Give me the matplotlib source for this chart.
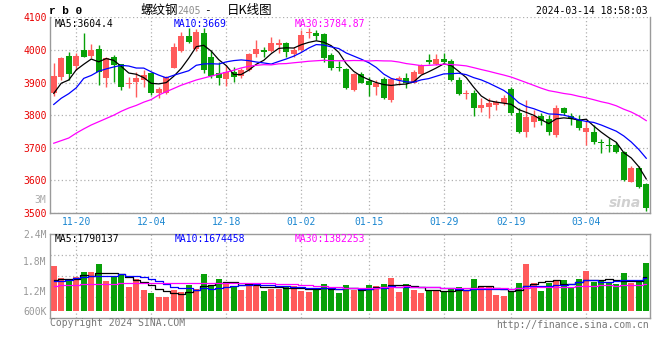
import numpy as np
import pandas as pd
import matplotlib
matplotlib.use('Agg')
import matplotlib.pyplot as plt

# rb0 daily candles, 2023-11-15 .. 2024-03-14
dates = ['11-15', '11-16', '11-17', '11-20', '11-21', '11-22', '11-23', '11-24', '11-27', '11-28',
         '11-29', '11-30', '12-01', '12-04', '12-05', '12-06', '12-07', '12-08', '12-11', '12-12',
         '12-13', '12-14', '12-15', '12-18', '12-19', '12-20', '12-21', '12-22', '12-25', '12-26',
         '12-27', '12-28', '12-29', '01-02', '01-03', '01-04', '01-05', '01-08', '01-09', '01-10',
         '01-11', '01-12', '01-15', '01-16', '01-17', '01-18', '01-19', '01-22', '01-23', '01-24',
         '01-25', '01-26', '01-29', '01-30', '01-31', '02-01', '02-02', '02-05', '02-06', '02-07',
         '02-08', '02-19', '02-20', '02-21', '02-22', '02-23', '02-26', '02-27', '02-28', '02-29',
         '03-01', '03-04', '03-05', '03-06', '03-07', '03-08', '03-11', '03-12', '03-13', '03-14']

opens = [3867, 3918, 3982, 3951, 4000, 3983, 4003, 3913, 3980, 3956,
         3895, 3903, 3908, 3928, 3869, 3867, 3946, 3997, 4044, 4003,
         4051, 3980, 3928, 3911, 3931, 3921, 3939, 3987, 4000, 3997,
         4015, 4020, 3987, 4000, 4051, 4051, 4048, 3985, 3949, 3943,
         3877, 3925, 3905, 3888, 3911, 3847, 3908, 3915, 3900, 3926,
         3969, 3957, 3972, 3967, 3908, 3864, 3867, 3823, 3826, 3831,
         3838, 3879, 3806, 3750, 3780, 3798, 3787, 3739, 3823, 3798,
         3785, 3747, 3747, 3719, 3709, 3709, 3688, 3596, 3637, 3589]
highs = [3959, 3980, 3995, 3990, 4051, 4017, 4015, 3980, 3985, 3958,
         3918, 3934, 3939, 3934, 3885, 3921, 4020, 4056, 4066, 4065,
         4066, 4000, 3964, 3954, 3949, 3945, 3990, 4031, 4010, 4041,
         4034, 4026, 4010, 4061, 4066, 4061, 4051, 3990, 3965, 3946,
         3928, 3931, 3918, 3908, 3918, 3915, 3921, 3928, 3939, 3956,
         3987, 3987, 3990, 3972, 3918, 3877, 3877, 3852, 3854, 3847,
         3862, 3886, 3821, 3847, 3816, 3806, 3801, 3831, 3826, 3808,
         3801, 3785, 3770, 3726, 3729, 3719, 3690, 3644, 3644, 3593]
lows = [3860, 3908, 3908, 3940, 3978, 3974, 3893, 3888, 3903, 3877,
        3882, 3857, 3888, 3862, 3852, 3864, 3944, 3995, 4020, 3998,
        3928, 3913, 3893, 3891, 3903, 3913, 3936, 3980, 3980, 3995,
        3990, 3980, 3980, 3997, 4038, 4031, 3964, 3939, 3936, 3880,
        3875, 3898, 3859, 3862, 3849, 3840, 3893, 3882, 3898, 3925,
        3956, 3954, 3959, 3906, 3862, 3850, 3799, 3811, 3792, 3816,
        3831, 3801, 3744, 3732, 3765, 3770, 3739, 3734, 3801, 3770,
        3755, 3709, 3712, 3685, 3688, 3685, 3598, 3594, 3576, 3505]
closes = [3920, 3974, 3925, 3982, 3980, 4000, 3932, 3975, 3954, 3888,
          3898, 3913, 3923, 3867, 3879, 3918, 4010, 4044, 4024, 4055,
          3939, 3920, 3913, 3934, 3918, 3939, 3987, 4003, 3995, 4020,
          4020, 3995, 4000, 4046, 4056, 4044, 3974, 3946, 3944, 3883,
          3925, 3900, 3893, 3900, 3852, 3911, 3915, 3900, 3934, 3954,
          3964, 3972, 3964, 3908, 3864, 3869, 3823, 3831, 3836, 3842,
          3852, 3806, 3750, 3793, 3798, 3783, 3747, 3823, 3808, 3787,
          3760, 3760, 3719, 3714, 3704, 3688, 3601, 3637, 3581, 3515]
volumes = [2330000, 1690000, 1600000, 1730000, 2020000, 2020000, 2420000, 1550000, 1730000, 1830000,
           1220000, 1660000, 1090000, 910000, 710000, 710000, 1090000, 980000, 1350000, 1120000,
           1910000, 1260000, 1640000, 1430000, 1290000, 1090000, 1430000, 1350000, 1040000, 1120000,
           1120000, 1290000, 1260000, 1040000, 980000, 1120000, 1380000, 1160000, 910000, 1330000,
           1090000, 1000000, 1330000, 1280000, 1380000, 1690000, 970000, 1380000, 1070000, 910000,
           1090000, 1000000, 950000, 1170000, 1220000, 1000000, 1640000, 1260000, 1260000, 810000,
           760000, 1000000, 1430000, 2420000, 1430000, 1040000, 1430000, 1520000, 1590000, 1210000,
           1660000, 2050000, 1470000, 1520000, 1430000, 1400000, 1950000, 1430000, 1570000, 2480000]

# moving averages of the first days need history before the window
ma5_head = [3867, 3898, 3908, 3939]
ma10_head = [3833, 3852, 3866, 3884, 3913, 3922, 3935, 3942, 3948]
ma30_head = [3714, 3722, 3730, 3745, 3758, 3770, 3780, 3790, 3800, 3812,
             3822, 3830, 3840, 3848, 3862, 3872, 3882, 3892, 3900, 3908,
             3914, 3920, 3926, 3932, 3938, 3945, 3950, 3953, 3955]
vol_ma5_head = [1600000, 1620000, 1620000, 1640000]
vol_ma10_head = [1520000, 1550000, 1600000, 1690000, 1730000, 1780000, 1810000, 1810000, 1810000]
vol_ma30_head = [1260000, 1310000, 1330000, 1350000, 1380000, 1400000, 1400000, 1400000, 1400000, 1430000,
                 1430000, 1430000, 1430000, 1430000, 1430000, 1430000, 1430000, 1430000, 1430000, 1430000,
                 1430000, 1430000, 1430000, 1430000, 1430000, 1430000, 1420000, 1420000, 1420000]

tick_dates = ['11-20', '12-04', '12-18', '01-02', '01-15', '01-29', '02-19', '03-04']
price_ticks = [3500, 3600, 3700, 3800, 3900, 4000, 4100]

RED = '#ff5b5b'
GREEN = '#08a008'
GRID = '#b0b0b0'
FRAME = '#9a9a9a'
MONO = 'DejaVu Sans Mono'
W, H = 660, 360


def moving_average(values, n, head):
    ma = pd.Series(values, dtype=float).rolling(n).mean().to_numpy()
    ma[:n - 1] = head
    return ma


def box(left, top, right, bottom):
    return [left / W, 1 - bottom / H, (right - left) / W, (bottom - top) / H]


x = np.arange(len(dates))
o = np.array(opens, dtype=float)
c = np.array(closes, dtype=float)
up = c >= o
colors = np.where(up, RED, GREEN)
tick_pos = [dates.index(d) for d in tick_dates]

fig = plt.figure(figsize=(6.6, 3.6), dpi=100)
fig.patch.set_facecolor('white')

# price panel
ax1 = fig.add_axes(box(50, 17.4, 650, 213))
ax1.vlines(x, lows, highs, colors=colors, linewidth=1, zorder=2)
body_low = np.minimum(o, c)
body_h = np.maximum(np.abs(c - o), 2.5)
ax1.bar(x, body_h, bottom=body_low, width=0.76, color=colors, linewidth=0, zorder=3)
ax1.plot(x, moving_average(closes, 5, ma5_head), color='black', lw=0.9, zorder=4)
ax1.plot(x, moving_average(closes, 10, ma10_head), color='#0000ff', lw=0.9, zorder=4)
ax1.plot(x, moving_average(closes, 30, ma30_head), color='#ff00ff', lw=0.9, zorder=4)
ax1.set_xlim(-0.5, len(dates) - 0.5)
ax1.set_ylim(3500, 4100)
ax1.set_yticks(price_ticks)
ax1.set_xticks(tick_pos, labels=tick_dates)
ax1.tick_params(axis='y', length=0, pad=2.5, labelsize=7, labelcolor='#e80000')
ax1.tick_params(axis='x', length=0, pad=3, labelsize=7, labelcolor='#1a86d0')
for lab in ax1.get_xticklabels() + ax1.get_yticklabels():
    lab.set_fontfamily(MONO)
ax1.grid(True, color=GRID, linestyle=(0, (1, 2)), linewidth=0.9)
ax1.set_axisbelow(True)
ax1.spines['top'].set_visible(False)
for s in ['left', 'right', 'bottom']:
    ax1.spines[s].set_color(FRAME)
    ax1.spines[s].set_linewidth(1)

ax1.text(5 / 600, 1 - 6.6 / 195.6, 'MA5:3604.4', transform=ax1.transAxes, fontsize=7,
         family=MONO, color='black', va='center')
ax1.text(124 / 600, 1 - 6.6 / 195.6, 'MA10:3669', transform=ax1.transAxes, fontsize=7,
         family=MONO, color='#0000ff', va='center')
ax1.text(245 / 600, 1 - 6.6 / 195.6, 'MA30:3784.87', transform=ax1.transAxes, fontsize=7,
         family=MONO, color='#ff00ff', va='center')
ax1.text(0.985, 0.05, 'sina', transform=ax1.transAxes, fontsize=10, fontweight='bold',
         style='italic', color='#d0d0d0', ha='right', va='center', zorder=1)

# volume panel
ax2 = fig.add_axes(box(50, 234, 650, 317.7))
vol_lo, vol_hi = -0.36e6, 3.97e6
ax2.bar(x, volumes, width=0.76, color=colors, linewidth=0, zorder=2)
ax2.plot(x, moving_average(volumes, 5, vol_ma5_head), color='black', lw=0.9,
         drawstyle='steps-mid', zorder=3)
ax2.plot(x, moving_average(volumes, 10, vol_ma10_head), color='#0000ff', lw=0.9,
         drawstyle='steps-mid', zorder=3)
ax2.plot(x, moving_average(volumes, 30, vol_ma30_head), color='#ff00ff', lw=0.9,
         drawstyle='steps-mid', zorder=3)
ax2.set_xlim(-0.5, len(dates) - 0.5)
ax2.set_ylim(vol_lo, vol_hi)
ax2.set_xticks(tick_pos, labels=[])
ax2.set_yticks([3.965e6, 2.57e6, 1.02e6, 0], labels=['2.4M', '1.8M', '1.2M', '600K'])
ax2.set_yticks([vol_lo + (vol_hi - vol_lo) * k / 4 for k in (1, 2, 3)], minor=True)
ax2.tick_params(axis='both', which='both', length=0)
ax2.tick_params(axis='y', pad=2.5, labelsize=7, labelcolor='#999999')
for lab in ax2.get_yticklabels():
    lab.set_fontfamily(MONO)
ax2.grid(True, axis='x', color=GRID, linestyle=(0, (1, 2)), linewidth=0.9)
ax2.grid(True, axis='y', which='minor', color=GRID, linestyle=(0, (1, 2)), linewidth=0.9)
ax2.set_axisbelow(True)
for s in ax2.spines.values():
    s.set_color(FRAME)
    s.set_linewidth(1)

ax2.text(5 / 600, 1 - 4.5 / 83.7, 'MA5:1790137', transform=ax2.transAxes, fontsize=7,
         family=MONO, color='black', va='center')
ax2.text(125 / 600, 1 - 4.5 / 83.7, 'MA10:1674458', transform=ax2.transAxes, fontsize=7,
         family=MONO, color='#0000ff', va='center')
ax2.text(245 / 600, 1 - 4.5 / 83.7, 'MA30:1382253', transform=ax2.transAxes, fontsize=7,
         family=MONO, color='#ff00ff', va='center')

# header and footer texts
fig.text(49 / W, 1 - 11 / H, 'r b 0', fontsize=8, family='Liberation Mono', fontweight='bold',
         color='black', va='center')
fig.text(140 / W, 1 - 10.5 / H, '螺纹钢', fontsize=9, family=['Noto Sans CJK SC', 'DejaVu Sans'],
         color='black', va='center')
fig.text(177 / W, 1 - 10.5 / H, '2405', fontsize=7, family=MONO, color='#8c8c8c', va='center')
fig.text(207 / W, 1 - 10.5 / H, '-', fontsize=8, family=MONO, color='black', va='center',
         ha='center')
fig.text(227 / W, 1 - 10.5 / H, '日K线图', fontsize=9, family=['Noto Sans CJK SC', 'DejaVu Sans'],
         color='black', va='center')
fig.text(648 / W, 1 - 11 / H, '2024-03-14 18:58:03', fontsize=7, family=MONO, color='black',
         va='center', ha='right')
fig.text(46 / W, 1 - 200 / H, '3M', fontsize=7, family=MONO, color='#aaaaaa', va='center',
         ha='right')
fig.text(50 / W, 1 - 323.5 / H, 'Copyright 2024 SINA.COM', fontsize=7, family=MONO,
         color='#777777', va='center')
fig.text(649 / W, 1 - 324.5 / H, 'http://finance.sina.com.cn', fontsize=7, family=MONO,
         color='#777777', va='center', ha='right')

fig.savefig('out.png', dpi=100)
